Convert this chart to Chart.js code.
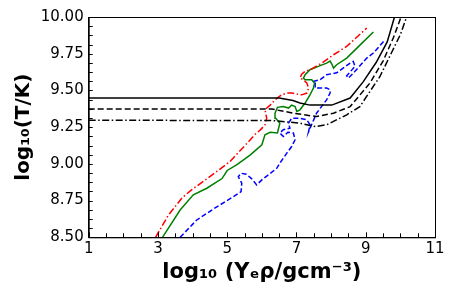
<!DOCTYPE html>
<html>
<head>
<meta charset="utf-8">
<script src="https://cdn.jsdelivr.net/npm/chart.js@4.4.0/dist/chart.umd.min.js"></script>
<style>
  body { margin: 0; background: #fff; }
  #wrap { width: 457px; height: 299px; }
</style>
</head>
<body>
<div id="wrap"><canvas id="myChart"></canvas></div>
<script>
// ---------- Datos ----------
const xTicks = [1, 3, 5, 7, 9, 11];
const yTicks = [8.5, 8.75, 9.0, 9.25, 9.5, 9.75, 10.0];

const negroSolidoX = [1, 6.5, 6.9, 7.1, 7.39, 8.02, 8.55, 8.93, 9.3, 9.62, 9.83];
const negroSolidoY = [9.448, 9.448, 9.432, 9.415, 9.40, 9.40, 9.448, 9.56, 9.69, 9.83, 10.0];

const negroGuionX = [1, 6.3, 6.91, 7.58, 8.07, 8.55, 9.12, 9.5, 9.8, 10.02];
const negroGuionY = [9.373, 9.373, 9.345, 9.322, 9.345, 9.39, 9.55, 9.70, 9.86, 10.0];

const negroPuntoX = [1, 6.3, 7.10, 7.54, 7.87, 8.45, 8.83, 9.41, 9.75, 10.0, 10.18];
const negroPuntoY = [9.297, 9.295, 9.277, 9.254, 9.266, 9.334, 9.39, 9.595, 9.76, 9.88, 10.0];

const rojoX = [2.93, 3.3, 3.7, 3.97, 4.5, 5.08, 5.61, 5.80, 5.95, 6.09, 6.14, 6.09, 6.24, 6.38, 6.57, 6.72, 6.86, 7.01, 7.15, 7.30, 7.35, 7.30, 7.20, 7.10, 7.15, 7.25, 7.39, 7.73, 8.07, 8.45, 9.03];
const rojoY = [8.5, 8.65, 8.77, 8.823, 8.913, 9.016, 9.15, 9.20, 9.23, 9.265, 9.31, 9.37, 9.40, 9.436, 9.47, 9.482, 9.482, 9.475, 9.47, 9.482, 9.516, 9.55, 9.573, 9.584, 9.61, 9.63, 9.641, 9.686, 9.743, 9.80, 9.925];

const verdeX = [3.13, 3.64, 4.02, 4.41, 4.85, 5.0, 5.27, 5.66, 6.0, 6.09, 6.24, 6.45, 6.52, 6.40, 6.38, 6.45, 6.62, 6.77, 6.86, 6.96, 7.01, 7.10, 7.25, 7.39, 7.49, 7.52, 7.44, 7.25, 7.20, 7.25, 7.39, 7.63, 7.87, 7.97, 8.02, 8.07, 8.16, 8.45, 8.84, 9.22];
const verdeY = [8.5, 8.686, 8.789, 8.834, 8.90, 8.955, 8.993, 9.06, 9.13, 9.198, 9.215, 9.21, 9.277, 9.31, 9.345, 9.385, 9.39, 9.38, 9.40, 9.39, 9.357, 9.368, 9.414, 9.47, 9.516, 9.55, 9.573, 9.573, 9.584, 9.607, 9.641, 9.664, 9.686, 9.70, 9.68, 9.652, 9.675, 9.72, 9.81, 9.898];

const azulX = [3.64, 4.12, 4.65, 5.18, 5.40, 5.42, 5.32, 5.40, 5.55, 5.70, 5.85, 6.0, 6.19, 6.43, 6.52, 6.72, 6.86, 6.96, 6.91, 6.75, 6.62, 6.52, 6.62, 6.81, 6.77, 6.86, 7.10, 7.30, 7.39, 7.35, 7.58, 7.87, 7.97, 7.97, 7.87, 7.73, 7.54, 7.54, 7.47, 7.68, 7.87, 8.16, 8.55, 8.64, 8.69, 8.60, 8.45, 8.50, 8.69, 9.03, 9.22, 9.56];
const azulY = [8.5, 8.618, 8.70, 8.777, 8.811, 8.868, 8.913, 8.936, 8.93, 8.90, 8.857, 8.891, 8.925, 8.97, 9.005, 9.073, 9.118, 9.164, 9.21, 9.215, 9.186, 9.21, 9.232, 9.243, 9.277, 9.31, 9.31, 9.30, 9.266, 9.22, 9.345, 9.436, 9.482, 9.505, 9.516, 9.516, 9.516, 9.55, 9.56, 9.573, 9.607, 9.62, 9.686, 9.698, 9.664, 9.64, 9.60, 9.584, 9.63, 9.72, 9.755, 9.845];

// ---------- Helpers ----------
function puntos(xs, ys) {
  return xs.map((x, i) => ({ x: x, y: ys[i] }));
}

function serie(xs, ys, color, dash) {
  return {
    data: puntos(xs, ys),
    borderColor: color,
    borderWidth: 1.5,
    borderDash: dash,
    pointRadius: 0,
    showLine: true,
    tension: 0,
    fill: false
  };
}

// marco y ticks hacia dentro (estilo matplotlib)
const marcoTicks = {
  id: 'marcoTicks',
  afterDraw(chart) {
    const { ctx, chartArea: a, scales: { x, y } } = chart;
    ctx.save();
    ctx.strokeStyle = '#000';
    ctx.lineWidth = 1;
    ctx.strokeRect(a.left + 0.5, a.top + 0.5, a.width, a.height);
    ctx.beginPath();
    for (let v = 1; v <= 11.001; v += 0.5) {
      const px = Math.round(x.getPixelForValue(v)) + 0.5;
      const len = xTicks.includes(Math.round(v * 100) / 100) ? 5 : 4;
      ctx.moveTo(px, a.bottom);
      ctx.lineTo(px, a.bottom - len);
    }
    for (let v = 8.5; v <= 10.001; v += 0.0625) {
      const py = Math.round(y.getPixelForValue(v)) + 0.5;
      ctx.moveTo(a.left, py);
      ctx.lineTo(a.left + 4, py);
    }
    ctx.stroke();
    ctx.restore();
  }
};

// ---------- Gráfica ----------
const ctx = document.getElementById('myChart').getContext('2d');

new Chart(ctx, {
  type: 'scatter',
  data: {
    datasets: [
      serie(negroSolidoX, negroSolidoY, '#000000', []),
      serie(negroGuionX, negroGuionY, '#000000', [6, 3]),
      serie(negroPuntoX, negroPuntoY, '#000000', [7, 2.5, 1.5, 2.5]),
      serie(rojoX, rojoY, '#ff0000', [7, 2.5, 1.5, 2.5]),
      serie(verdeX, verdeY, '#008000', []),
      serie(azulX, azulY, '#0000ff', [5, 2.5])
    ]
  },
  options: {
    responsive: true,
    maintainAspectRatio: false,
    animation: false,
    layout: { padding: { top: 17, right: 22, left: 0, bottom: 0 } },
    plugins: {
      legend: { display: false },
      tooltip: { enabled: false }
    },
    scales: {
      x: {
        type: 'linear',
        min: 1,
        max: 11,
        grid: { display: false, drawTicks: false },
        border: { display: true, color: '#000' },
        ticks: {
          stepSize: 2,
          padding: 3,
          color: '#000',
          font: { family: 'DejaVu Sans', size: 15 }
        },
        title: {
          display: true,
          text: 'log\u2081\u2080 (Y\u2091\u03c1/gcm\u207b\u00b3)',
          color: '#000',
          font: { family: 'DejaVu Sans', size: 21, weight: 'bold' },
          padding: { top: 0, bottom: 14 }
        },
        afterFit: s => { s.height = 61.7; }
      },
      y: {
        type: 'linear',
        min: 8.5,
        max: 10,
        grid: { display: false, drawTicks: false },
        border: { display: true, color: '#000' },
        ticks: {
          stepSize: 0.25,
          padding: 5,
          color: '#000',
          font: { family: 'DejaVu Sans', size: 15 },
          callback: v => v.toFixed(2)
        },
        title: {
          display: true,
          text: 'log\u2081\u2080(T/K)',
          color: '#000',
          font: { family: 'DejaVu Sans', size: 20, weight: 'bold' },
          padding: { top: 12, bottom: 0 }
        },
        afterFit: s => { s.width = 88.7; }
      }
    }
  },
  plugins: [marcoTicks]
});
</script>
</body>
</html>
